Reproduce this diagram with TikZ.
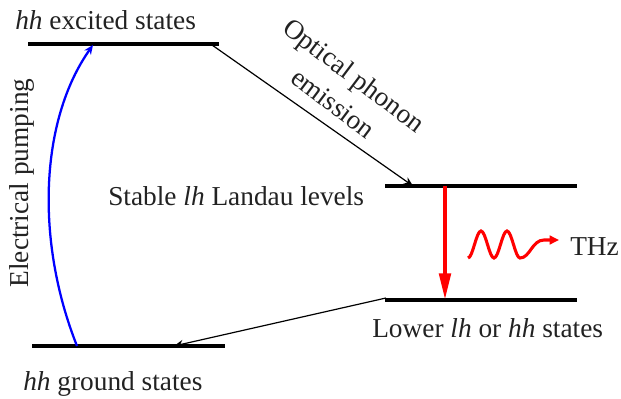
\documentclass[tikz,border=0pt]{standalone}
\usepackage{fontspec}
\setmainfont{Liberation Serif}
\usetikzlibrary{arrows.meta}
\definecolor{txt}{HTML}{222222}
\definecolor{pump}{HTML}{0000FF}
\definecolor{emit}{HTML}{FF0000}
\tikzset{
  lvl/.style={line width=2.4pt, line cap=butt},
  lab/.style={font=\fontsize{20.5}{26}\selectfont, text=txt, inner sep=0pt},
  a/.style={-{Stealth[length=7pt, width=6pt]}, line width=0.9pt},
  apump/.style={-{Stealth[length=7pt, width=6pt]}, draw=pump, line width=1.7pt},
  arad/.style={-{Triangle[length=20pt, width=8.5pt]}, draw=emit, line width=3pt},
  awave/.style={-{Triangle[length=7pt, width=6.5pt]}, draw=emit, line width=2.3pt},
}

\begin{document}
\begin{tikzpicture}[x=0.75pt, y=-0.75pt]
\path[use as bounding box] (0,0) rectangle (621,399);

% ---- levels ----
\coordinate (exL) at (28,44);   \coordinate (exR) at (219,44);
\coordinate (stL) at (385,186); \coordinate (stR) at (577,186);
\coordinate (loL) at (385,300); \coordinate (loR) at (577,300);
\coordinate (grL) at (32,346);  \coordinate (grR) at (225,346);
\draw[lvl] (exL) -- (exR);
\draw[lvl] (stL) -- (stR);
\draw[lvl] (loL) -- (loR);
\draw[lvl] (grL) -- (grR);

% ---- labels ----
\node[lab, anchor=base west] (exc) at (15,30)  {\textit{hh} excited states};
\node[lab, anchor=base west] (stb) at (108,205) {Stable \textit{lh} Landau levels};
\node[lab, anchor=base west] (low) at (372,337) {Lower \textit{lh} or \textit{hh} states};
\node[lab, anchor=base west] (gnd) at (23,390) {\textit{hh} ground states};
\node[lab, rotate=90] (pmp) at (22,183) {Electrical pumping};
\node[lab, rotate=-37, align=center] (pho) at (344,89) {Optical phonon\\emission};
\node[lab, anchor=base west] (thz) at (570,255) {THz};

% ---- arrow ends ----
\coordinate (pS) at (77,346);  \coordinate (pE) at (93,45);
\coordinate (oS) at (212,45);  \coordinate (oE) at (413,186);
\coordinate (rS) at (445,186); \coordinate (rE) at (445,300);
\coordinate (dS) at (386,298); \coordinate (dE) at (174,346);
\coordinate (wS) at (468,258); \coordinate (wE) at (559,240);

% ---- transitions ----
\draw[apump] (pS) .. controls (35,240) and (40,120) .. (pE);
\draw[a] (oS) -- (oE);
\draw[arad] (rS) -- (rE);
\draw[a] (dS) -- (dE);
\draw[awave] (wS) cos ++(6.5,-13.5) sin ++(6.5,-13.5) cos ++(6.5,13.5) sin ++(6.5,13.5)
  cos ++(6.5,-13.5) sin ++(6.5,-13.5) cos ++(6.5,13.5) sin ++(6.5,13.5)
  .. controls (530,258) and (532,240) .. (544,240) -- (wE);
\end{tikzpicture}
\end{document}
